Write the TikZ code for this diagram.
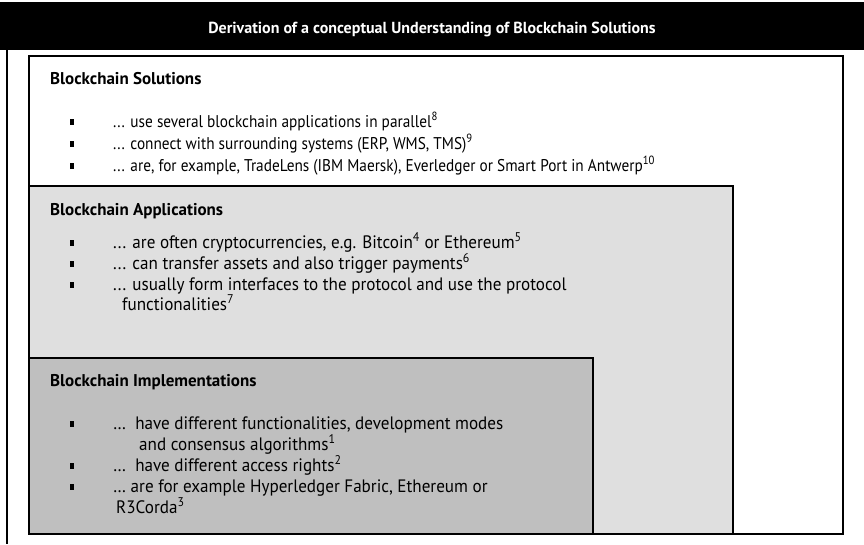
\documentclass[tikz,border=0pt]{standalone}
\usepackage{fontspec}
\setmainfont{PT Sans}
\newfontfamily\bodyfont[FakeStretch=0.9]{PT Sans}
\newfontfamily\bodyfontw[FakeStretch=0.95]{PT Sans}
\begin{document}
\begin{tikzpicture}[x=1pt,y=-1pt,
  box/.style={draw=black, line width=2.5pt},
  txt/.style={anchor=base west, inner sep=0pt, font=\bodyfont\fontsize{17}{20}\selectfont},
  txtw/.style={anchor=base west, inner sep=0pt, font=\bodyfontw\fontsize{18}{21}\selectfont},
  hdr/.style={anchor=base west, inner sep=0pt, font=\fontsize{17}{20}\selectfont\bfseries},
  bul/.style={fill=black, minimum width=4.5pt, minimum height=6pt, inner sep=0pt},
]
\useasboundingbox (0,0) rectangle (864,544);
% title bar
\fill[black] (0,2) rectangle (864,50);
\node[anchor=base, inner sep=0pt, text=white, font=\fontsize{16}{19}\selectfont\bfseries] (title) at (432,33) {Derivation of a conceptual Understanding of Blockchain Solutions};
% outer frame left line
\draw[line width=2pt] (6.5,50) -- (6.5,544);
% boxes
\draw[box, fill=white] (29,56) rectangle (843,534);
\draw[box, fill={rgb,255:red,223;green,223;blue,223}] (29,186) rectangle (733,534);
\draw[box, fill={rgb,255:red,191;green,191;blue,191}] (29,358) rectangle (593,534);
% Solutions
\node[hdr] (hs) at (50,84) {Blockchain Solutions};
\node[bul] (bs1) at (72,122) {};
\node[txt] (ts1) at (113,127) {... use several blockchain applications in parallel\textsuperscript{8}};
\node[bul] (bs2) at (72,144) {};
\node[txt] (ts2) at (113,149) {... connect with surrounding systems (ERP, WMS, TMS)\textsuperscript{9}};
\node[bul] (bs3) at (72,166) {};
\node[txt] (ts3) at (113,171) {... are, for example, TradeLens (IBM Maersk), Everledger or Smart Port in Antwerp\textsuperscript{10}};
% Applications
\node[hdr] (ha) at (50,215) {Blockchain Applications};
\node[bul] (ba1) at (72,243) {};
\node[txtw] (ta1) at (113,248) {... are often cryptocurrencies, e.g. Bitcoin\textsuperscript{4} or Ethereum\textsuperscript{5}};
\node[bul] (ba2) at (72,264) {};
\node[txtw] (ta2) at (113,269) {... can transfer assets and also trigger payments\textsuperscript{6}};
\node[bul] (ba3) at (72,285) {};
\node[txtw] (ta3) at (113,290) {... usually form interfaces to the protocol and use the protocol};
\node[txtw] (ta3b) at (122,310) {functionalities\textsuperscript{7}};
% Implementations
\node[hdr] (hi) at (50,386) {Blockchain Implementations};
\node[bul] (bi1) at (72,424) {};
\node[txtw] (ti1) at (113,429) {…\ \ have different functionalities, development modes};
\node[txtw] (ti1b) at (139,450) {and consensus algorithms\textsuperscript{1}};
\node[bul] (bi2) at (72,466) {};
\node[txtw] (ti2) at (113,471) {…\ \ have different access rights\textsuperscript{2}};
\node[bul] (bi3) at (72,487) {};
\node[txtw] (ti3) at (113,492) {… are for example Hyperledger Fabric, Ethereum or};
\node[txtw] (ti3b) at (116,513) {R3Corda\textsuperscript{3}};
\end{tikzpicture}
\end{document}
